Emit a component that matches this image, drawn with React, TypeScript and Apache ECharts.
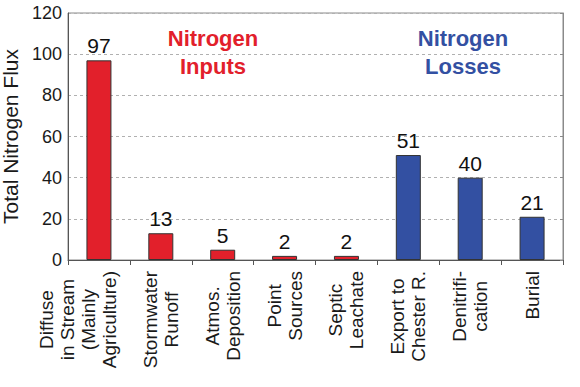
import React, { useEffect, useRef } from "react";
import * as echarts from "echarts";

const categories: string[] = [
  "Diffuse\nin Stream\n(Mainly\nAgriculture)",
  "Stormwater\nRunoff",
  "Atmos.\nDeposition",
  "Point\nSources",
  "Septic\nLeachate",
  "Export to\nChester R.",
  "Denitrifi-\ncation",
  "Burial",
];
const values: number[] = [97, 13, 5, 2, 2, 51, 40, 21];
const groups: string[] = ["in", "in", "in", "in", "in", "out", "out", "out"];
const yTicks = { min: 0, max: 120, interval: 20 };
const yName = "Total Nitrogen Flux";
const inputsTitle = "Nitrogen\nInputs";
const lossesTitle = "Nitrogen\nLosses";

const RED = "#e2202b";
const BLUE = "#3350a2";
const FONT = "'Liberation Sans', Arial, Helvetica, sans-serif";

export default function App() {
  const ref = useRef<HTMLDivElement>(null);
  useEffect(() => {
    document.body.style.margin = "0";
    if (!ref.current) return;
    const chart = echarts.init(ref.current, null, { renderer: "svg" });
    const data = values.map((v, i) => ({
      value: v,
      itemStyle: { color: groups[i] === "in" ? RED : BLUE },
    }));
    chart.setOption({
      animation: false,
      textStyle: { fontFamily: FONT },
      grid: {
        left: 68,
        right: 17,
        top: 13,
        bottom: 127,
        show: true,
        borderColor: "#8a8a8a",
        borderWidth: 1,
        outerBoundsMode: "none",
        containLabel: false,
      },
      graphic: [
        {
          type: "text",
          x: 213,
          y: 24,
          style: {
            text: inputsTitle,
            fill: RED,
            font: `bold 22px ${FONT}`,
            align: "center",
            verticalAlign: "top",
            lineHeight: 28,
          },
        },
        {
          type: "text",
          x: 463,
          y: 24,
          style: {
            text: lossesTitle,
            fill: BLUE,
            font: `bold 22px ${FONT}`,
            align: "center",
            verticalAlign: "top",
            lineHeight: 28,
          },
        },
      ],
      xAxis: {
        type: "category",
        data: categories,
        axisLine: { lineStyle: { color: "#555", width: 1 } },
        axisTick: { show: true, length: 5, lineStyle: { color: "#555" } },
        axisLabel: {
          interval: 0,
          rotate: 90,
          margin: 11,
          color: "#1a1a1a",
          formatter: (val: string) => {
            const lines = val.split("\n");
            const out = lines.map((l) => `{a|${l}}`);
            if (lines.length > 3) {
              out.push("{a| }", "{a| }");
            }
            return out.join("\n");
          },
          rich: {
            a: {
              fontSize: 19,
              lineHeight: 21,
              align: "center",
              fontFamily: FONT,
              color: "#1a1a1a",
            },
          },
        },
      },
      yAxis: [
        {
          type: "value",
          min: yTicks.min,
          max: yTicks.max,
          interval: yTicks.interval,
          name: yName,
          nameLocation: "middle",
          nameGap: 39,
          nameTextStyle: { fontSize: 21, color: "#1a1a1a", fontFamily: FONT },
          axisLine: { show: true, lineStyle: { color: "#555" } },
          axisTick: { show: false },
          axisLabel: { fontSize: 18, color: "#1a1a1a", margin: 6 },
          splitLine: {
            show: true,
            lineStyle: { type: [3, 3], color: "#b0b0b0", width: 1 },
          },
        },
        {
          type: "value",
          position: "right",
          min: yTicks.min,
          max: yTicks.max,
          interval: yTicks.interval,
          axisLine: { show: true, lineStyle: { color: "#8a8a8a" } },
          axisTick: { show: true, inside: true, length: 3, lineStyle: { color: "#8a8a8a" } },
          axisLabel: { show: false },
          splitLine: { show: false },
        },
      ],
      series: [
        {
          type: "bar",
          data,
          barWidth: 25,
          itemStyle: { borderColor: "#333", borderWidth: 1 },
          label: {
            show: true,
            position: "top",
            distance: 4,
            fontSize: 21,
            color: "#111",
            fontFamily: FONT,
          },
        },
      ],
    });
    return () => chart.dispose();
  }, []);
  return <div ref={ref} style={{ width: 580, height: 387 }} />;
}
